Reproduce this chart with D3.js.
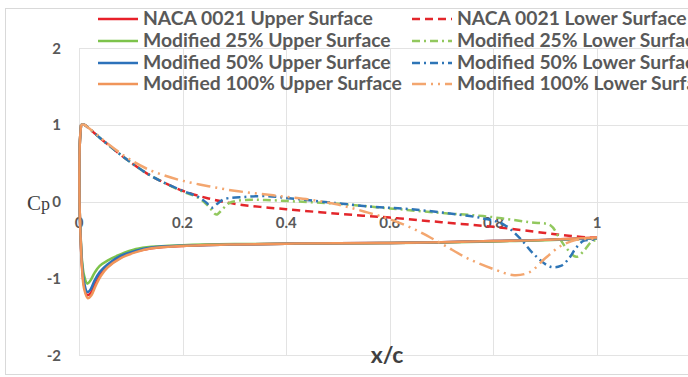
<!DOCTYPE html>
<html>
<head>
<meta charset="utf-8">
<script src="https://cdn.jsdelivr.net/npm/d3@7/dist/d3.min.js"></script>
<style>
  html, body { margin: 0; padding: 0; background: #fff; overflow: hidden; }
  svg { display: block; }
</style>
</head>
<body>
<svg id="chart" width="688" height="377"></svg>
<script>
// Pressure coefficient along the chord, NACA 0021 and modified profiles
const xGrid = [0, 0.2, 0.4, 0.6, 0.8, 1, 1.2];
const xTickValues = [0, 0.2, 0.4, 0.6, 0.8, 1];
const xTickLabels = ["0", "0.2", "0.4", "0.6", "0.8", "1"];
const yTicks = [2, 1, 0, -1, -2];
const yTickLabels = ["2", "1", "0", "-1", "-2"];

const seriesNames = [
  "NACA 0021 Upper Surface", "NACA 0021 Lower Surface",
  "Modified 25% Upper Surface", "Modified 25% Lower Surface",
  "Modified 50% Upper Surface", "Modified 50% Lower Surface",
  "Modified 100% Upper Surface", "Modified 100% Lower Surface"
];

// [x/c, Cp] pairs
const nacaUpper = [[0.004,1.0],[0.0015,0.75],[0.0008,0.4],[0.001,0],[0.003,-0.45],[0.006,-0.86],[0.01,-1.1],[0.016,-1.22],[0.023,-1.19],[0.031,-1.08],[0.041,-0.96],[0.055,-0.85],[0.08,-0.73],[0.11,-0.65],[0.14,-0.61],[0.2,-0.58],[0.3,-0.56],[0.4,-0.55],[0.5,-0.545],[0.6,-0.54],[0.7,-0.53],[0.8,-0.515],[0.9,-0.5],[1.0,-0.47]];
const nacaLower = [[0.004,1.0],[0.01,1.0],[0.02,0.95],[0.03,0.89],[0.04,0.83],[0.06,0.72],[0.08,0.61],[0.1,0.51],[0.13,0.37],[0.16,0.26],[0.2,0.14],[0.25,0.04],[0.3,-0.03],[0.35,-0.07],[0.4,-0.1],[0.5,-0.16],[0.6,-0.21],[0.7,-0.27],[0.8,-0.33],[0.9,-0.41],[0.95,-0.45],[1.0,-0.48]];
const mod25Upper = [[0.004,1.0],[0.0015,0.75],[0.0008,0.4],[0.001,0],[0.003,-0.42],[0.006,-0.78],[0.01,-0.97],[0.016,-1.07],[0.022,-1.03],[0.03,-0.93],[0.04,-0.84],[0.055,-0.77],[0.08,-0.69],[0.11,-0.62],[0.14,-0.59],[0.2,-0.57],[0.3,-0.555],[0.4,-0.55],[0.5,-0.545],[0.6,-0.54],[0.7,-0.535],[0.8,-0.52],[0.9,-0.505],[1.0,-0.48]];
const mod25Lower = [[0.004,1.0],[0.01,1.0],[0.02,0.95],[0.03,0.89],[0.04,0.83],[0.06,0.72],[0.08,0.61],[0.1,0.51],[0.13,0.37],[0.16,0.26],[0.2,0.13],[0.23,0.05],[0.25,-0.06],[0.265,-0.17],[0.277,-0.1],[0.29,-0.02],[0.32,0.02],[0.36,0.02],[0.42,0.0],[0.5,-0.03],[0.6,-0.09],[0.7,-0.15],[0.78,-0.19],[0.87,-0.27],[0.91,-0.31],[0.925,-0.45],[0.94,-0.6],[0.96,-0.72],[0.975,-0.64],[0.99,-0.52],[1.0,-0.5]];
const mod50Upper = [[0.004,1.0],[0.0015,0.75],[0.0008,0.4],[0.001,0],[0.003,-0.44],[0.006,-0.83],[0.01,-1.06],[0.016,-1.18],[0.022,-1.15],[0.03,-1.03],[0.04,-0.92],[0.055,-0.82],[0.08,-0.71],[0.11,-0.64],[0.14,-0.6],[0.2,-0.575],[0.3,-0.56],[0.4,-0.55],[0.5,-0.545],[0.6,-0.54],[0.7,-0.53],[0.8,-0.515],[0.9,-0.5],[1.0,-0.48]];
const mod50Lower = [[0.004,1.0],[0.01,1.0],[0.02,0.95],[0.03,0.89],[0.04,0.83],[0.06,0.72],[0.08,0.61],[0.1,0.51],[0.13,0.37],[0.16,0.26],[0.2,0.14],[0.23,0.06],[0.245,-0.01],[0.257,-0.08],[0.267,-0.03],[0.28,0.03],[0.32,0.06],[0.36,0.07],[0.41,0.04],[0.48,-0.01],[0.57,-0.07],[0.64,-0.1],[0.72,-0.16],[0.78,-0.22],[0.82,-0.3],[0.85,-0.47],[0.88,-0.7],[0.91,-0.85],[0.93,-0.84],[0.945,-0.75],[0.96,-0.6],[0.975,-0.51],[1.0,-0.5]];
const mod100Upper = [[0.004,1.0],[0.0015,0.75],[0.0008,0.4],[0.001,0],[0.003,-0.46],[0.006,-0.89],[0.01,-1.14],[0.017,-1.26],[0.024,-1.22],[0.032,-1.1],[0.042,-0.97],[0.055,-0.86],[0.08,-0.74],[0.11,-0.66],[0.14,-0.61],[0.2,-0.58],[0.3,-0.56],[0.4,-0.55],[0.5,-0.545],[0.6,-0.54],[0.7,-0.53],[0.8,-0.515],[0.9,-0.5],[1.0,-0.47]];
const mod100Lower = [[0.004,1.0],[0.01,1.0],[0.02,0.95],[0.04,0.84],[0.06,0.73],[0.08,0.63],[0.1,0.54],[0.13,0.43],[0.16,0.35],[0.2,0.27],[0.25,0.2],[0.3,0.14],[0.35,0.1],[0.4,0.06],[0.45,0.02],[0.5,-0.04],[0.55,-0.13],[0.6,-0.23],[0.65,-0.37],[0.7,-0.55],[0.75,-0.74],[0.8,-0.88],[0.84,-0.96],[0.87,-0.92],[0.9,-0.74],[0.93,-0.58],[0.96,-0.5],[1.0,-0.49]];

const seriesData = [nacaUpper, nacaLower, mod25Upper, mod25Lower, mod50Upper, mod50Lower, mod100Upper, mod100Lower];

// line styling per series
const styles = [
  { color: "#E8202A", dash: null },
  { color: "#E3262B", dash: "8,5" },
  { color: "#7DC34B", dash: null },
  { color: "#92C85E", dash: "8,4,2,4" },
  { color: "#2C72BA", dash: null },
  { color: "#2E75B6", dash: "8,4,2,4" },
  { color: "#F0955A", dash: null },
  { color: "#F3A66F", dash: "14,5,2,5,2,5" }
];

const svg = d3.select("#chart");
const plot = { left: 79, top: 48, bottom: 355 };

const x = d3.scaleLinear().domain([0, 1.2]).range([plot.left, plot.left + 518 * 1.2]);
const y = d3.scaleLinear().domain([-2, 2]).range([plot.bottom, plot.top]);

// chart frame
svg.append("rect")
  .attr("x", 5.5).attr("y", 8.5)
  .attr("width", 740).attr("height", 366)
  .attr("fill", "#fff").attr("stroke", "#D9D9D9");

// gridlines
const grid = svg.append("g").attr("stroke", "#E3E3E3").attr("stroke-width", 1);
grid.selectAll("line.h").data(yTicks).join("line")
  .attr("x1", x(0)).attr("x2", x(1.2))
  .attr("y1", d => Math.round(y(d)) + 0.5).attr("y2", d => Math.round(y(d)) + 0.5);
grid.selectAll("line.v").data(xGrid).join("line")
  .attr("y1", y(2)).attr("y2", y(-2))
  .attr("x1", d => Math.round(x(d)) + 0.5).attr("x2", d => Math.round(x(d)) + 0.5);

const tickFont = "Lato, 'Open Sans', sans-serif";

// y tick labels
svg.append("g").selectAll("text").data(yTicks).join("text")
  .attr("x", 61).attr("y", d => y(d) + 5.5)
  .attr("text-anchor", "end")
  .attr("font-family", tickFont).attr("font-weight", 700).attr("font-size", 15)
  .attr("fill", "#595959")
  .text((d, i) => yTickLabels[i]);

// x tick labels, sitting just under the Cp = 0 line
svg.append("g").selectAll("text").data(xTickValues).join("text")
  .attr("x", d => x(d)).attr("y", y(0) + 26)
  .attr("text-anchor", "middle")
  .attr("font-family", tickFont).attr("font-weight", 700).attr("font-size", 15)
  .attr("fill", "#595959")
  .text((d, i) => xTickLabels[i]);

// curves
const line = d3.line()
  .x(d => x(d[0])).y(d => y(d[1]))
  .curve(d3.curveCatmullRom.alpha(0.5));

const curves = svg.append("g").attr("fill", "none");
seriesData.forEach((data, i) => {
  curves.append("path")
    .datum(data)
    .attr("d", line)
    .attr("stroke", styles[i].color)
    .attr("stroke-width", 2.5)
    .attr("stroke-linejoin", "round")
    .attr("stroke-dasharray", styles[i].dash);
});

// axis titles
svg.append("text")
  .attr("x", 387).attr("y", 363)
  .attr("text-anchor", "middle")
  .attr("font-family", tickFont).attr("font-weight", 700).attr("font-size", 23)
  .attr("fill", "#404040")
  .text("x/c");

const cp = svg.append("text")
  .attr("x", 27).attr("y", 210)
  .attr("font-family", "'Liberation Serif', 'Times New Roman', serif")
  .attr("font-size", 21)
  .attr("fill", "#404040");
cp.append("tspan").text("C");
cp.append("tspan").attr("font-size", 18).text("p");

// legend: two columns, series in row-major order
const legend = svg.append("g");
const legendRows = [19, 41, 63, 84];
const colSample = [98, 412];
const colText = [143, 457];
const items = legend.selectAll("g").data(seriesNames).join("g")
  .attr("transform", (d, i) => `translate(0, ${legendRows[Math.floor(i / 2)]})`);
items.append("line")
  .attr("x1", (d, i) => colSample[i % 2]).attr("x2", (d, i) => colSample[i % 2] + 40)
  .attr("y1", 0).attr("y2", 0)
  .attr("stroke", (d, i) => styles[i].color)
  .attr("stroke-width", 2.4)
  .attr("stroke-dasharray", (d, i) => styles[i].dash);
const labels = items.append("text")
  .attr("x", (d, i) => colText[i % 2]).attr("y", 6)
  .attr("font-family", tickFont).attr("font-weight", 700).attr("font-size", 16)
  .attr("fill", "#595959")
  .text(d => d);

// size legend text so the first label spans its column width
const w0 = labels.node().getComputedTextLength();
labels.attr("font-size", 16 * 230 / w0);
</script>
</body>
</html>
